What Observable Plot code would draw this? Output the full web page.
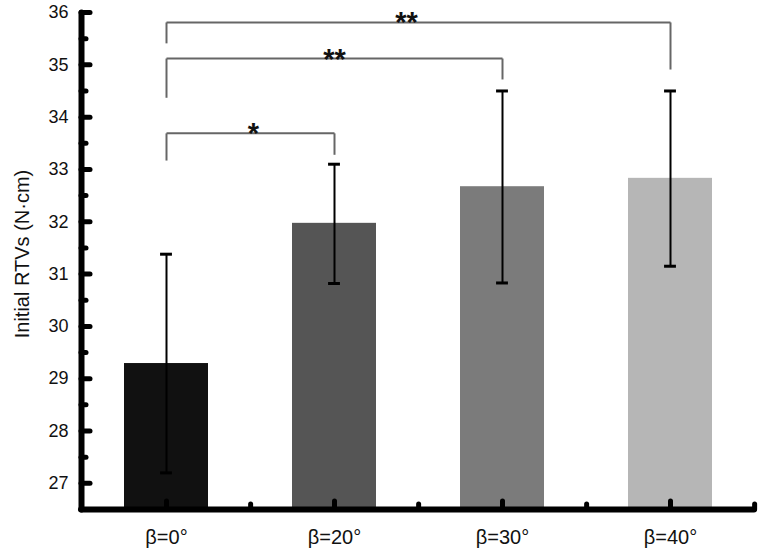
<!DOCTYPE html>
<html><head><meta charset="utf-8">
<script src="https://cdn.jsdelivr.net/npm/d3@7"></script>
<script src="https://cdn.jsdelivr.net/npm/@observablehq/plot@0.6"></script>
<style>
body{margin:0;background:#fff}
svg{font-family:"Liberation Sans",Arial,sans-serif}
</style>
</head><body><div id="chart"></div>
<script>
// ---- data ----
const categories = ["β=0°", "β=20°", "β=30°", "β=40°"];
const means = [29.29, 31.97, 32.67, 32.83];
const errLow = [27.2, 30.82, 30.83, 31.15];
const errHigh = [31.38, 33.1, 34.5, 34.5];
const barColors = ["#111111", "#555555", "#7b7b7b", "#b6b6b6"];
const yMajorTicks = [27, 28, 29, 30, 31, 32, 33, 34, 35, 36];
const yMinorTicks = [27.5, 28.5, 29.5, 30.5, 31.5, 32.5, 33.5, 34.5, 35.5];
const yLabel = "Initial RTVs (N·cm)";
// significance brackets
const sigFrom = ["β=0°", "β=0°", "β=0°"];
const sigTo = ["β=20°", "β=30°", "β=40°"];
const sigLevel = [33.69, 35.12, 35.81];
const sigLegFrom = [33.17, 34.37, 35.41];
const sigLegTo = [33.28, 34.72, 34.91];
const sigLabel = ["*", "**", "**"];
const sigLabelY = [33.69, 35.12, 35.81];
const sigLabelAt = ["β=20°", "β=20°", "β=20°"];

// ---- layout ----
const W = 767, H = 552;
const mL = 81, mR = 13, mT = 12, mB = 43;
const FW = W - mL - mR, FH = H - mT - mB;
const bandW = FW / 4 * 0.5;
const capInset = bandW / 2 - 6;
const sigDx = [-81, 0, 72];

const bars = categories.map((c, i) => ({c, mean: means[i], lo: errLow[i], hi: errHigh[i], color: barColors[i]}));
const sig = sigFrom.map((f, i) => ({f, t: sigTo[i], y: sigLevel[i], yf: sigLegFrom[i], yt: sigLegTo[i], label: sigLabel[i], ly: sigLabelY[i], at: sigLabelAt[i]}));

const chart = Plot.plot({
  width: W, height: H,
  marginLeft: mL, marginRight: mR, marginTop: mT, marginBottom: mB,
  style: {fontFamily: '"Liberation Sans", Arial, sans-serif', color: "#111", background: "#fff"},
  x: {domain: categories, paddingInner: 0.5, paddingOuter: 0.25, axis: null},
  y: {domain: [26.5, 36], axis: null},
  marks: [
    Plot.barY(bars, {x: "c", y1: 26.5, y2: "mean", fill: "color"}),
    Plot.ruleX(bars, {x: "c", y1: "lo", y2: "hi", stroke: "#000", strokeWidth: 2}),
    Plot.tickY(bars, {x: "c", y: "hi", stroke: "#000", strokeWidth: 3, inset: capInset}),
    Plot.tickY(bars, {x: "c", y: "lo", stroke: "#000", strokeWidth: 3, inset: capInset}),
    // brackets
    Plot.link(sig, {x1: "f", x2: "t", y1: "y", y2: "y", stroke: "#666", strokeWidth: 2}),
    Plot.link(sig, {x1: "f", x2: "f", y1: "y", y2: "yf", stroke: "#666", strokeWidth: 2}),
    Plot.link(sig, {x1: "t", x2: "t", y1: "y", y2: "yt", stroke: "#666", strokeWidth: 2}),
    ...sig.map((s, k) => Plot.text([s], {x: "at", y: "ly", text: "label", dx: sigDx[k], dy: 10, fontSize: 29, fontWeight: "bold", fill: "#111", lineAnchor: "bottom"})),
    // axes lines
    Plot.frame({anchor: "left", stroke: "#000", strokeWidth: 6, strokeLinecap: "round"}),
    Plot.ruleY([26.5], {stroke: "#000", strokeWidth: 6, strokeLinecap: "round"}),
    // y ticks
    Plot.tickY(yMajorTicks, {y: d => d, insetRight: FW - 9, stroke: "#000", strokeWidth: 5, strokeLinecap: "round"}),
    Plot.tickY(yMinorTicks, {y: d => d, insetRight: FW - 5, stroke: "#000", strokeWidth: 5, strokeLinecap: "round"}),
    // x ticks
    Plot.tickX(categories, {x: d => d, insetTop: FH - 8, stroke: "#000", strokeWidth: 5, strokeLinecap: "round"}),
    Plot.tickX(categories, {x: d => d, dx: FW / 8, insetTop: FH - 5, stroke: "#000", strokeWidth: 5, strokeLinecap: "round"}),
    // axis labels
    Plot.axisY(yMajorTicks, {tickSize: 0, tickPadding: 13, fontSize: 18, tickFormat: d => String(d), label: null}),
    Plot.axisX({tickSize: 0, tickPadding: 20, fontSize: 20, label: null}),
    Plot.text([yLabel], {frameAnchor: "left", dx: -59, dy: -7, rotate: -90, textAnchor: "middle", fontSize: 20, fill: "#111"})
  ]
});
document.getElementById("chart").appendChild(chart);
</script>
</body></html>
